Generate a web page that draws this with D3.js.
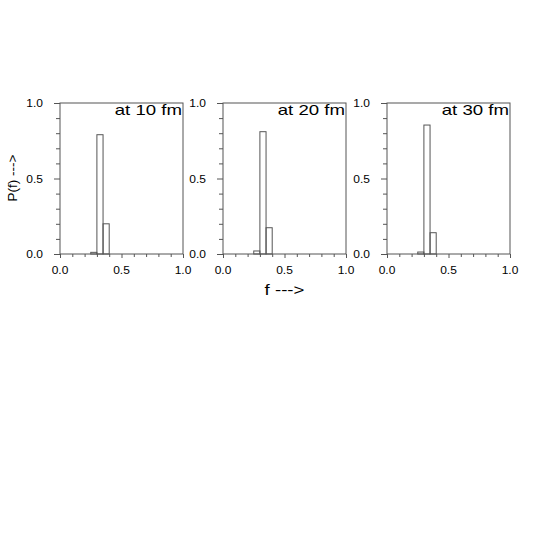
<!DOCTYPE html>
<html>
<head>
<meta charset="utf-8">
<script src="https://cdn.jsdelivr.net/npm/d3@7"></script>
<style>
	body { margin: 0; background: #fff; }
	text { font-family: "Liberation Sans", Arial, sans-serif; fill: #000; }
</style>
</head>
<body>
<div id="chart"></div>
<script>
// Data
//---------------------------------------------------------------------------
var binStarts = [0.25, 0.30, 0.35]; // bin width 0.05
var binWidth = 0.05;
var p10 = [0.011, 0.79, 0.20];
var p20 = [0.02, 0.81, 0.174];
var p30 = [0.013, 0.854, 0.141];
var panelLabels = ["at 10 fm", "at 20 fm", "at 30 fm"];
var majorTicks = [0, 0.5, 1];
var minorTicks = [0.1, 0.2, 0.3, 0.4, 0.6, 0.7, 0.8, 0.9];

var series = [p10, p20, p30];

// Graphical parameters
var W = 545, H = 545;
var panelLeft = [60, 223, 387];
var panelW = 123;
var plotTop = 103, plotBottom = 254;
var lineColor = "#555";
var stretch = 1.33; // text in the original is drawn wide

var svg = d3.select("#chart").append("svg")
	.attr("width", W)
	.attr("height", H);

// y scale is shared by all panels
var y = d3.scaleLinear().domain([0, 1]).range([plotBottom, plotTop]);

function wideText(g, x, yy, str, size, anchor, sx) {
	return g.append("text")
		.attr("transform", "translate(" + x + "," + yy + ") scale(" + (sx || stretch) + ",1)")
		.attr("font-size", size)
		.attr("text-anchor", anchor)
		.text(str);
}

series.forEach(function(vals, k) {
	var x = d3.scaleLinear().domain([0, 1])
		.range([panelLeft[k], panelLeft[k] + panelW]);
	var g = svg.append("g");

	// minor ticks
	g.append("g")
		.attr("transform", "translate(0," + plotBottom + ")")
		.call(d3.axisBottom(x).tickValues(minorTicks).tickSize(3).tickFormat(""))
		.call(function(a) { a.select(".domain").remove(); });
	g.append("g")
		.attr("transform", "translate(" + panelLeft[k] + ",0)")
		.call(d3.axisLeft(y).tickValues(minorTicks).tickSize(4).tickFormat(""))
		.call(function(a) { a.select(".domain").remove(); });

	// major ticks, labels drawn separately so they can be stretched
	g.append("g")
		.attr("transform", "translate(0," + plotBottom + ")")
		.call(d3.axisBottom(x).tickValues(majorTicks).tickSize(4).tickFormat(""))
		.call(function(a) { a.select(".domain").remove(); });
	g.append("g")
		.attr("transform", "translate(" + panelLeft[k] + ",0)")
		.call(d3.axisLeft(y).tickValues(majorTicks).tickSize(6).tickFormat(""))
		.call(function(a) { a.select(".domain").remove(); });

	g.selectAll(".tick line").attr("stroke", lineColor);

	majorTicks.forEach(function(t) {
		wideText(g, x(t), plotBottom + 19.5, d3.format(".1f")(t), 10, "middle", 1.2);
		wideText(g, panelLeft[k] - 17, y(t) + 4, d3.format(".1f")(t), 10, "end", 1.2);
	});

	// bars
	g.selectAll("rect.bar")
		.data(vals)
		.enter()
		.append("rect")
		.attr("class", "bar")
		.attr("x", function(d, i) { return x(binStarts[i]); })
		.attr("width", function(d, i) { return x(binStarts[i] + binWidth) - x(binStarts[i]); })
		.attr("y", function(d) { return y(d); })
		.attr("height", function(d) { return y(0) - y(d); })
		.attr("fill", "none")
		.attr("stroke", lineColor)
		.attr("stroke-width", 1);

	// frame
	g.append("rect")
		.attr("x", panelLeft[k])
		.attr("y", plotTop)
		.attr("width", panelW)
		.attr("height", plotBottom - plotTop)
		.attr("fill", "none")
		.attr("stroke", lineColor)
		.attr("stroke-width", 1);

	wideText(g, panelLeft[k] + panelW - 1, 115, panelLabels[k], 14, "end");
});

// axis titles
wideText(svg, 284.5, 295, "f --->", 14, "middle");
svg.append("text")
	.attr("transform", "translate(17,178) rotate(-90)")
	.attr("font-size", 13.5)
	.attr("text-anchor", "middle")
	.text("P(f) --->");
</script>
</body>
</html>
